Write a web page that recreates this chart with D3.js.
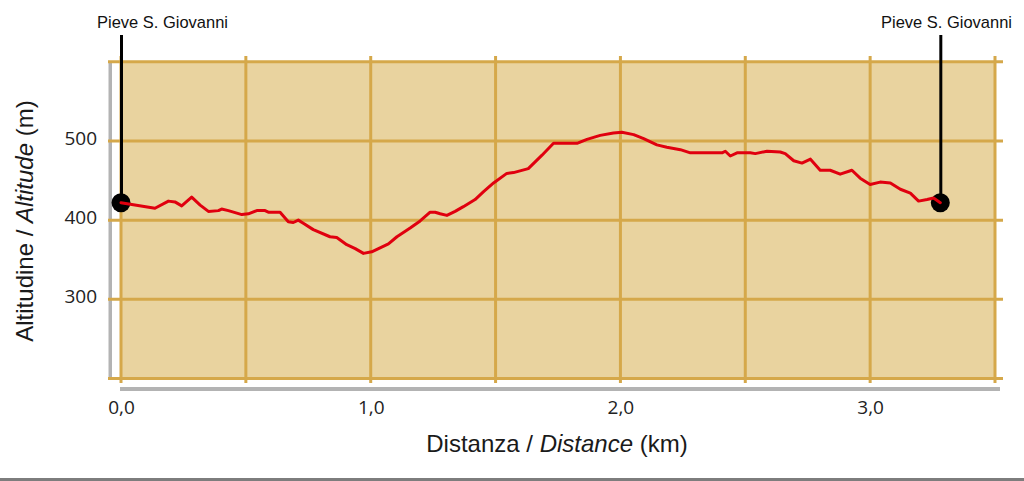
<!DOCTYPE html>
<html>
<head>
<meta charset="utf-8">
<script src="https://cdn.jsdelivr.net/npm/d3@7"></script>
<style>
  html, body { margin: 0; padding: 0; background: #ffffff; }
  svg { display: block; }
</style>
</head>
<body>
<svg id="chart" width="1024" height="481"></svg>
<script>
// ---- data ----
const distanceKm = [0, 0.136, 0.19, 0.216, 0.243, 0.283, 0.317, 0.35, 0.39, 0.403, 0.43, 0.484, 0.51, 0.544, 0.577, 0.59, 0.637, 0.67, 0.69, 0.71, 0.73, 0.77, 0.837, 0.864, 0.904, 0.938, 0.971, 1.004, 1.071, 1.105, 1.158, 1.198, 1.238, 1.258, 1.278, 1.305, 1.338, 1.371, 1.418, 1.452, 1.492, 1.545, 1.572, 1.631, 1.686, 1.732, 1.826, 1.866, 1.919, 1.972, 2.006, 2.053, 2.093, 2.146, 2.186, 2.24, 2.28, 2.407, 2.42, 2.44, 2.467, 2.52, 2.54, 2.587, 2.64, 2.66, 2.694, 2.727, 2.761, 2.8, 2.84, 2.88, 2.927, 2.96, 3.0, 3.04, 3.081, 3.121, 3.161, 3.194, 3.228, 3.254, 3.281];
const altitudeM = [422, 415, 424, 423, 418, 429, 419, 411, 412, 414, 412, 407, 408, 412, 412, 410, 410, 398, 397, 400, 396, 388, 379, 378, 369, 364, 358, 360, 370, 379, 390, 399, 410, 410, 408, 406, 411, 417, 426, 436, 447, 459, 460, 465, 482, 497, 497, 502, 507, 510, 511, 508, 503, 495, 492, 489, 485, 485, 487, 481, 485, 485, 484, 487, 486, 484, 475, 472, 477, 463, 463, 458, 463, 453, 445, 448, 447, 439, 434, 424, 426, 428, 422];
const xGridKm = [0, 0.5, 1, 1.5, 2, 2.5, 3, 3.5];
const xTickKm = [0, 1, 2, 3];
const yGridM = [200, 300, 400, 500, 600];
const yTickM = [300, 400, 500];
const endpointNames = ["Pieve S. Giovanni", "Pieve S. Giovanni"];
const xTitle = ["Distanza / ", "Distance", " (km)"];
const yTitle = ["Altitudine / ", "Altitude", " (m)"];

// ---- styles ----
const FILL = "#e9d39f";
const GOLD = "#d5a84a";
const GRAY = "#b3b3b3";
const RED = "#e0000f";

const svg = d3.select("#chart");
const x = d3.scaleLinear().domain([0, 3.5]).range([121, 995]);
const y = d3.scaleLinear().domain([200, 600]).range([378.5, 61.75]);

const fmt = d3.formatLocale({decimal: ",", thousands: ".", grouping: [3], currency: ["", ""]}).format(".1f");

// background plot fill
svg.append("rect")
  .attr("x", x(0)).attr("y", y(600))
  .attr("width", x(3.5) - x(0)).attr("height", y(200) - y(600))
  .attr("fill", FILL);

// gray frame bars (shadow)
svg.append("rect").attr("x", 108.5).attr("y", y(600))
  .attr("width", 3.5).attr("height", y(200) - y(600)).attr("fill", GRAY);
svg.append("rect").attr("x", x(0) - 1).attr("y", 387)
  .attr("width", x(3.5) - x(0) + 6).attr("height", 4).attr("fill", GRAY);

// grid lines
svg.append("g").selectAll("line").data(yGridM).join("line")
  .attr("x1", 108).attr("x2", 1003)
  .attr("y1", d => y(d)).attr("y2", d => y(d))
  .attr("stroke", GOLD).attr("stroke-width", 3);
svg.append("g").selectAll("line").data(xGridKm).join("line")
  .attr("x1", d => x(d)).attr("x2", d => x(d))
  .attr("y1", 56).attr("y2", 383)
  .attr("stroke", GOLD).attr("stroke-width", 3);

// tick labels
svg.append("g").selectAll("text").data(yTickM).join("text")
  .attr("x", 97).attr("y", d => y(d) - 1)
  .attr("text-anchor", "end").attr("dominant-baseline", "middle")
  .attr("font-family", "'Open Sans', sans-serif").attr("font-size", 19)
  .attr("fill", "#222")
  .text(d => d);
svg.append("g").selectAll("text").data(xTickKm).join("text")
  .attr("x", d => x(d) + 0.5).attr("y", 409)
  .attr("text-anchor", "middle").attr("dominant-baseline", "middle")
  .attr("font-family", "'Open Sans', sans-serif").attr("font-size", 19)
  .attr("fill", "#222")
  .text(d => fmt(d));

// axis titles
const xt = svg.append("text")
  .attr("x", 557).attr("y", 452)
  .attr("text-anchor", "middle")
  .attr("font-family", "'Liberation Sans', Arial, sans-serif").attr("font-size", 24)
  .attr("fill", "#1a1a1a");
xt.append("tspan").text(xTitle[0]);
xt.append("tspan").attr("font-style", "italic").text(xTitle[1]);
xt.append("tspan").text(xTitle[2]);

const yt = svg.append("text")
  .attr("transform", "translate(33,221) rotate(-90)")
  .attr("text-anchor", "middle")
  .attr("font-family", "'Liberation Sans', Arial, sans-serif").attr("font-size", 24)
  .attr("fill", "#1a1a1a");
yt.append("tspan").text(yTitle[0]);
yt.append("tspan").attr("font-style", "italic").text(yTitle[1]);
yt.append("tspan").text(yTitle[2]);

// endpoint markers
const n = distanceKm.length;
const ends = [
  {d: distanceKm[0], a: altitudeM[0], name: endpointNames[0], lx: 97},
  {d: distanceKm[n - 1], a: altitudeM[n - 1], name: endpointNames[1], lx: 881}
];
const eg = svg.append("g");
eg.selectAll("line").data(ends).join("line")
  .attr("x1", d => x(d.d) + 0.5).attr("x2", d => x(d.d) + 0.5)
  .attr("y1", 35).attr("y2", d => y(d.a))
  .attr("stroke", "#000").attr("stroke-width", 3);
eg.selectAll("circle").data(ends).join("circle")
  .attr("cx", d => x(d.d)).attr("cy", d => y(d.a))
  .attr("r", 9.5).attr("fill", "#000");
eg.selectAll("text").data(ends).join("text")
  .attr("x", d => d.lx).attr("y", 28)
  .attr("font-family", "'Liberation Sans', Arial, sans-serif").attr("font-size", 17)
  .attr("textLength", 131).attr("lengthAdjust", "spacingAndGlyphs")
  .attr("fill", "#111")
  .text(d => d.name);

// profile line
const pts = distanceKm.map((d, i) => [d, altitudeM[i]]);
svg.append("path")
  .datum(pts)
  .attr("d", d3.line().x(d => x(d[0])).y(d => y(d[1])))
  .attr("fill", "none").attr("stroke", RED).attr("stroke-width", 3)
  .attr("stroke-linejoin", "round").attr("stroke-linecap", "round");

// bottom frame line
svg.append("rect").attr("x", 0).attr("y", 478).attr("width", 1024).attr("height", 3).attr("fill", "#7d7d7d");
</script>
</body>
</html>
